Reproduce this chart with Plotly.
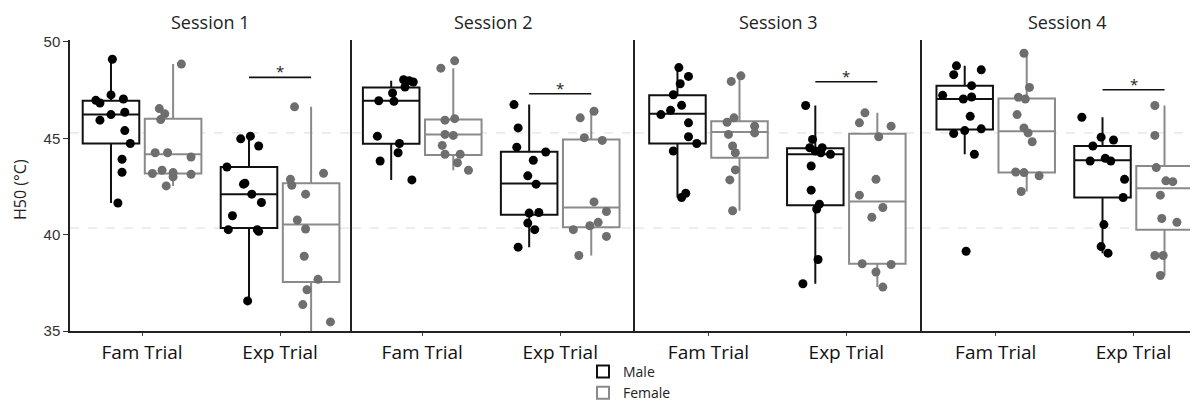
import plotly.graph_objects as go

# ---------------- data ----------------
sessions = ["Session 1", "Session 2", "Session 3", "Session 4"]
trials = ["Fam Trial", "Exp Trial"]
sexes = ["Male", "Female"]

male_fam = [
    [49.1, 46.97, 46.83, 47.25, 47.04, 46.23, 46.35, 45.94, 45.40, 44.73, 43.91, 43.24, 41.64],
    [48.04, 47.99, 47.92, 47.66, 47.35, 46.95, 46.92, 45.11, 44.73, 44.25, 43.82, 42.84],
    [48.67, 48.21, 47.83, 47.26, 46.71, 46.45, 46.23, 45.8, 45.08, 44.73, 44.34, 42.15, 41.93],
    [48.76, 48.3, 48.55, 47.73, 47.23, 47.14, 47.04, 46.14, 45.25, 45.4, 45.49, 44.17, 39.14],
]
male_fam_jit = [
    [0.01, -0.11, -0.08, 0.0, 0.09, 0.0, 0.10, -0.08, 0.10, 0.14, 0.08, 0.08, 0.05],
    [0.09, 0.13, 0.16, 0.10, 0.01, -0.09, 0.02, -0.10, 0.06, 0.05, -0.08, 0.15],
    [0.01, 0.08, 0.02, -0.03, 0.03, -0.05, -0.12, 0.08, 0.08, 0.14, -0.03, 0.06, 0.03],
    [-0.06, -0.08, 0.12, 0.05, -0.16, 0.05, -0.01, 0.04, -0.08, 0.0, 0.12, 0.07, 0.01],
]
female_fam = [
    [48.85, 46.54, 46.27, 45.97, 44.25, 44.25, 44.03, 43.17, 43.34, 43.22, 43.13, 43.0, 42.53],
    [49.02, 48.64, 46.02, 45.94, 45.15, 45.2, 44.63, 44.17, 44.17, 43.73, 43.34],
    [48.24, 47.95, 46.06, 45.83, 45.63, 45.28, 45.2, 44.6, 44.25, 43.36, 42.84, 41.24],
    [49.41, 47.64, 47.13, 47.04, 46.23, 45.54, 45.28, 44.82, 43.25, 43.22, 43.05, 42.24],
]
female_fam_jit = [
    [0.06, -0.10, -0.06, -0.09, -0.13, -0.04, 0.13, -0.15, -0.08, 0.0, 0.13, 0.0, -0.05],
    [0.01, -0.09, 0.01, -0.06, 0.0, -0.06, -0.08, 0.05, -0.06, 0.03, 0.11],
    [0.01, -0.06, -0.04, -0.09, 0.11, 0.11, -0.08, -0.05, -0.03, -0.03, -0.07, -0.05],
    [-0.02, 0.02, -0.06, -0.01, -0.07, -0.02, 0.01, 0.04, -0.08, -0.02, 0.09, -0.04],
]
male_exp = [
    [45.11, 44.97, 44.6, 43.51, 42.62, 42.67, 42.1, 41.67, 40.98, 40.26, 40.26, 40.17, 36.56],
    [46.75, 45.54, 44.54, 44.29, 43.86, 43.05, 42.62, 41.12, 41.15, 40.6, 40.26, 39.35],
    [46.7, 44.94, 44.51, 44.51, 44.34, 44.25, 44.17, 43.56, 42.31, 41.58, 41.33, 38.71, 37.45],
    [46.09, 45.06, 44.91, 44.6, 43.82, 43.96, 43.82, 42.87, 41.93, 40.52, 39.38, 39.04],
]
male_exp_jit = [
    [0.01, -0.06, 0.07, -0.16, -0.04, -0.03, 0.02, 0.09, -0.12, -0.15, 0.06, 0.07, -0.01],
    [-0.11, -0.08, -0.09, 0.12, 0.03, -0.01, 0.05, 0.0, 0.07, -0.01, 0.04, -0.08],
    [-0.07, -0.02, -0.04, 0.05, 0.0, 0.04, 0.11, -0.03, -0.03, 0.03, 0.01, 0.02, -0.09],
    [-0.15, -0.01, 0.08, -0.07, -0.09, 0.02, 0.06, 0.16, 0.15, 0.01, -0.01, 0.04],
]
female_exp = [
    [46.63, 43.18, 42.87, 42.56, 42.1, 40.76, 40.29, 38.88, 37.68, 37.14, 36.37, 35.47],
    [46.4, 46.06, 45.03, 44.89, 41.7, 41.2, 40.64, 40.46, 40.26, 39.91, 38.92],
    [46.32, 45.8, 45.63, 45.08, 42.87, 42.05, 41.41, 40.9, 38.49, 38.45, 38.06, 37.28],
    [46.7, 45.15, 43.48, 42.79, 42.75, 42.05, 40.84, 40.64, 38.92, 38.92, 37.88],
]
female_exp_jit = [
    [-0.12, 0.09, -0.15, -0.14, -0.04, -0.10, -0.04, -0.05, 0.05, -0.03, -0.06, 0.14],
    [0.02, -0.08, -0.05, 0.08, 0.02, 0.11, 0.05, -0.01, -0.13, 0.11, -0.09],
    [-0.09, -0.13, 0.10, 0.01, -0.01, -0.13, 0.04, -0.04, -0.11, 0.10, -0.01, 0.04],
    [-0.07, -0.07, -0.06, 0.01, 0.06, -0.03, -0.02, 0.09, -0.07, -0.01, -0.03],
]

# box statistics per session: [Fam, Exp]
male_q1 = [[44.73, 40.34], [44.72, 41.03], [44.73, 41.53], [45.46, 41.93]]
male_med = [[46.23, 42.10], [46.95, 42.65], [46.27, 44.17], [47.04, 43.86]]
male_q3 = [[46.95, 43.51], [47.64, 44.30], [47.23, 44.48], [47.73, 44.60]]
male_lo = [[41.64, 36.56], [42.84, 39.35], [41.93, 37.45], [44.17, 39.04]]
male_hi = [[49.10, 45.11], [47.99, 46.75], [48.67, 46.70], [48.76, 46.09]]
female_q1 = [[43.17, 37.54], [44.13, 40.38], [43.99, 38.49], [43.22, 40.26]]
female_med = [[44.17, 40.52], [45.20, 41.41], [45.32, 41.72], [45.37, 42.41]]
female_q3 = [[46.02, 42.67], [45.97, 44.94], [45.89, 45.23], [47.06, 43.56]]
female_lo = [[42.53, 35.00], [43.34, 38.92], [41.24, 37.28], [42.24, 37.88]]
female_hi = [[48.85, 46.63], [48.64, 46.40], [48.24, 46.32], [49.41, 46.70]]

sig_y = [48.16, 47.31, 47.93, 47.52]
grid_y = [45.28, 40.34]

# ---------------- styling / layout ----------------
MALE_LINE, MALE_PT = "#111111", "#000000"
FEM_LINE, FEM_PT = "#8a8a8a", "#6e6e6e"
OFF = 0.225
BOXW = 0.41

# the page body adds an 8px offset, so the figure is laid out 8px smaller
SH = 8
W, H = 1198 - SH, 404 - SH
L, R, T, B = 70 - SH, 0, 40 - SH, 404 - 331
PW = W - L - R
PH = H - T - B
panel_px = [(70, 351), (352, 635), (635, 922), (922, 1198)]
x_ranges = [(0.478, 2.514), (0.491, 2.542), (0.467, 2.549), (0.465, 2.468)]
Y_RANGE = [35, 50.1]


def px_x(sx):
    return (sx - SH - L) / PW


def px_y(sy):
    return (H - B - (sy - SH)) / PH


fig = go.Figure()

series = {
    "Male": dict(fam=male_fam, famj=male_fam_jit, exp=male_exp, expj=male_exp_jit,
                 q1=male_q1, med=male_med, q3=male_q3, lo=male_lo, hi=male_hi,
                 off=-OFF, line=MALE_LINE, pt=MALE_PT),
    "Female": dict(fam=female_fam, famj=female_fam_jit, exp=female_exp, expj=female_exp_jit,
                   q1=female_q1, med=female_med, q3=female_q3, lo=female_lo, hi=female_hi,
                   off=OFF, line=FEM_LINE, pt=FEM_PT),
}

for i in range(4):
    xa = "x" if i == 0 else f"x{i+1}"
    ya = "y" if i == 0 else f"y{i+1}"
    for sex in sexes:
        s = series[sex]
        fig.add_trace(go.Box(
            x=[1 + s["off"], 2 + s["off"]],
            q1=s["q1"][i], median=s["med"][i], q3=s["q3"][i],
            lowerfence=s["lo"][i], upperfence=s["hi"][i],
            width=BOXW, whiskerwidth=0, fillcolor="white",
            line=dict(color=s["line"], width=2),
            name=sex, legendgroup=sex, showlegend=(i == 0),
            xaxis=xa, yaxis=ya, hoverinfo="skip",
        ))
    for sex in sexes:
        s = series[sex]
        for t, (vals, jit) in enumerate([(s["fam"][i], s["famj"][i]), (s["exp"][i], s["expj"][i])]):
            fig.add_trace(go.Scatter(
                x=[t + 1 + s["off"] + j for j in jit], y=vals,
                mode="markers", marker=dict(color=s["pt"], size=9),
                showlegend=False, xaxis=xa, yaxis=ya, hoverinfo="skip",
                cliponaxis=True,
            ))
    # significance bar between Male and Female on Exp Trial
    fig.add_trace(go.Scatter(
        x=[2 - OFF, 2 + OFF], y=[sig_y[i], sig_y[i]], mode="lines",
        line=dict(color="#111", width=1.6), showlegend=False,
        xaxis=xa, yaxis=ya, hoverinfo="skip",
    ))

layout = dict(
    width=W, height=H,
    margin=dict(l=L, r=R, t=T, b=B, autoexpand=False),
    paper_bgcolor="white", plot_bgcolor="white",
    font=dict(family="Open Sans", color="#111"),
    showlegend=True,
    legend=dict(x=px_x(583), y=px_y(356),
                xanchor="left", yanchor="top", orientation="v",
                font=dict(family="Open Sans", size=14, color="#222"),
                bgcolor="rgba(0,0,0,0)", tracegroupgap=0, itemwidth=30),
    boxmode="overlay",
)
annotations = []
shapes = []
for i in range(4):
    x0, x1 = panel_px[i]
    dom = [max(0.0, px_x(x0)), min(1.0, px_x(x1))]
    xk = "xaxis" if i == 0 else f"xaxis{i+1}"
    yk = "yaxis" if i == 0 else f"yaxis{i+1}"
    yname = "y" if i == 0 else f"y{i+1}"
    xname = "x" if i == 0 else f"x{i+1}"
    layout[xk] = dict(
        domain=dom, range=list(x_ranges[i]), anchor=yname,
        tickvals=[1, 2], ticktext=trials, ticks="outside", ticklen=3,
        tickcolor="#444", tickwidth=1, showline=True, linecolor="#222", linewidth=1.5,
        showgrid=False, zeroline=False,
        tickfont=dict(family="Open Sans", size=19, color="#111"),
    )
    yax = dict(
        domain=[0, 1], range=Y_RANGE, anchor=xname, showgrid=False, zeroline=False,
        showline=True, linecolor="#222", linewidth=1.5,
    )
    if i == 0:
        yax.update(tickvals=[35, 40, 45, 50], ticks="outside", ticklen=5, tickcolor="#333",
                   tickfont=dict(family="Liberation Sans", size=15, color="#333"))
    else:
        yax.update(showticklabels=False, ticks="", matches="y")
    layout[yk] = yax

    annotations.append(dict(
        text=sessions[i], xref="paper", yref="paper",
        x=px_x((x0 + x1) / 2 if i < 3 else 1067), y=px_y(22),
        xanchor="center", yanchor="middle", showarrow=False,
        font=dict(family="Open Sans", size=18, color="#222"),
    ))
    annotations.append(dict(
        text="*", xref=xname, yref=yname, x=2, y=sig_y[i],
        xanchor="center", yanchor="bottom", yshift=-6, showarrow=False,
        font=dict(family="Open Sans", size=15, color="#222"),
    ))
    for gy in grid_y:
        shapes.append(dict(
            type="line", xref=f"{xname} domain", yref=yname, x0=0, x1=1, y0=gy, y1=gy,
            line=dict(color="#e3e3e3", width=1.2, dash="dash"), layer="below",
        ))

annotations.append(dict(
    text="H50 (°C)", xref="paper", yref="paper",
    x=px_x(20), y=px_y(190), textangle=-90,
    xanchor="center", yanchor="middle", showarrow=False,
    font=dict(family="Open Sans", size=16, color="#222"),
))
layout["annotations"] = annotations
layout["shapes"] = shapes
fig.update_layout(**layout)

fig.write_html("out.html")
